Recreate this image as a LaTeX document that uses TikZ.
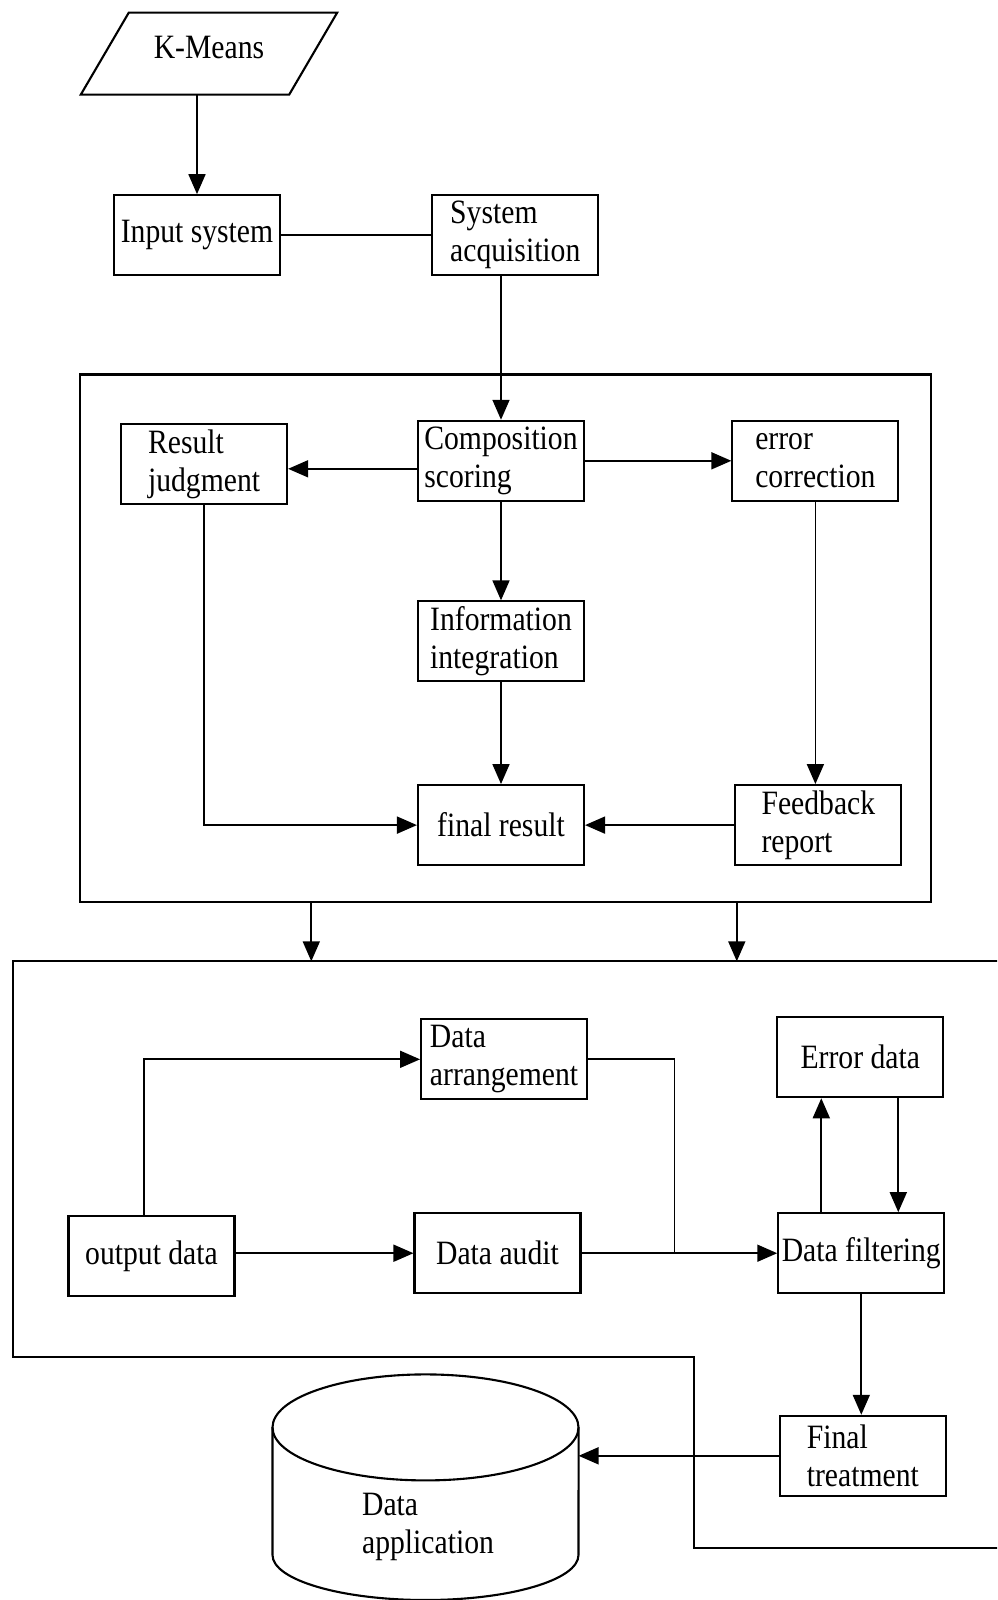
\documentclass[tikz,border=0pt]{standalone}
\usepackage{fontspec}
\setmainfont{Liberation Serif}[FakeStretch=0.87]
\usetikzlibrary{arrows.meta}

\begin{document}
\begin{tikzpicture}[x=0.1mm, y=-0.1mm,
		procbox/.style={draw, line width=0.6pt, minimum width=16.6mm, minimum height=8mm, inner sep=0.3mm, align=left},
		flow/.style={line width=0.5pt, -{Triangle[length=2mm,width=1.7mm]}},
		font=\fontsize{9.7}{10.8}\selectfont]
		\useasboundingbox (0,0) rectangle (997,1600);
		\clip (0,0) rectangle (997,1600);

		% input
		\node[minimum width=20.7mm, minimum height=8.06mm, inner sep=0pt, text depth=1.3mm] (kmeans) at (209,53.6) {K-Means};
		\draw[line width=0.6pt] ([xshift=-2.4mm]kmeans.south west) -- ([xshift=2.4mm]kmeans.north west) -- ([xshift=2.4mm]kmeans.north east) -- ([xshift=-2.4mm]kmeans.south east) -- cycle;
		\node[procbox] (insys) at (197,235.2) {Input system};
		\node[procbox] (sysacq) at (515.3,235.2) {System\\acquisition};
		\draw[flow] (kmeans.south -| insys.north) -- (insys.north);
		\draw[line width=0.5pt] (insys) -- (sysacq);

		% scoring
		\node[draw, line width=0.6pt, minimum width=85.1mm, minimum height=52.76mm] (stage1) at (505.2,638.3) {};
		\node[procbox] (resjudg) at (204.1,464.3) {Result\\judgment};
		\node[procbox] (compsc) at (501,460.8) {Composition\\scoring};
		\node[procbox] (errcorr) at (815.4,460.8) {error\\correction};
		\node[procbox] (infoint) at (501,641.4) {Information\\integration};
		\node[procbox] (finres) at (501,825.1) {final result};
		\node[procbox] (fbrep) at (818.4,825.1) {Feedback\\report};

		\draw[flow] (sysacq.south -| compsc.north) -- (compsc.north);
		\draw[flow] ([yshift=-0.8mm]compsc.west) -- ([yshift=-0.8mm]compsc.west -| resjudg.east);
		\draw[flow] (compsc) -- (errcorr);
		\draw[flow] (compsc) -- (infoint);
		\draw[flow] (infoint) -- (finres);
		\draw[flow] (errcorr.south) -- (errcorr.south |- fbrep.north);
		\draw[flow] (fbrep) -- (finres);
		\draw[flow] (resjudg.south) |- (finres.west);

		% data handling
		\coordinate (in1) at (311.3,961.3);
		\coordinate (in2) at (736.8,961.3);
		\draw[flow] (stage1.south -| in1) -- (in1);
		\draw[flow] (stage1.south -| in2) -- (in2);
		\draw[line width=0.6pt] (1010,961.3) -- (13.3,961.3) -- (13.3,1357.3) -- (693.9,1357.3) -- (693.9,1548.1) -- (1010,1548.1);

		\node[procbox] (dataarr) at (504.1,1059.3) {Data\\arrangement};
		\node[procbox] (errdata) at (860.3,1057.2) {Error data};
		\node[procbox] (outdata) at (151.5,1256.3) {output data};
		\node[procbox] (dataaud) at (497.5,1253.2) {Data audit};
		\node[procbox] (datafilt) at (861.3,1253.2) {Data filtering};
		\node[procbox] (ftreat) at (862.8,1455.8) {Final\\treatment};

		\draw[flow] ([xshift=-0.76mm]outdata.north) |- (dataarr.west);
		\draw[flow] (outdata.east |- dataaud.west) -- (dataaud.west);
		\draw[flow] (dataaud) -- (datafilt);
		\coordinate (join) at (674.6,1253.2);
		\draw[line width=0.5pt] (dataarr.east) -| (join);
		\draw[flow] ([xshift=-4mm]datafilt.north) -- ([xshift=-4mm]datafilt.north |- errdata.south);
		\draw[flow] ([xshift=3.8mm]errdata.south) -- ([xshift=3.8mm]errdata.south |- datafilt.north);
		\draw[flow] (datafilt.south) -- (datafilt.south |- ftreat.north);

		% storage
		\draw[line width=0.6pt] (425.5,1427.4) ellipse [x radius=15.3mm, y radius=5.3mm];
		\draw[line width=0.6pt] (272.5,1427.4) -- (272.5,1555) arc[start angle=180, end angle=360, x radius=15.3mm, y radius=4.5mm] -- (578.6,1427.4);
		\node[align=left] (dataapp) at (428,1527) {Data\\application};
		\coordinate (cylside) at (578.6,1456);
		\draw[flow] (ftreat.west) -- (ftreat.west -| cylside);
	\end{tikzpicture}
\end{document}
